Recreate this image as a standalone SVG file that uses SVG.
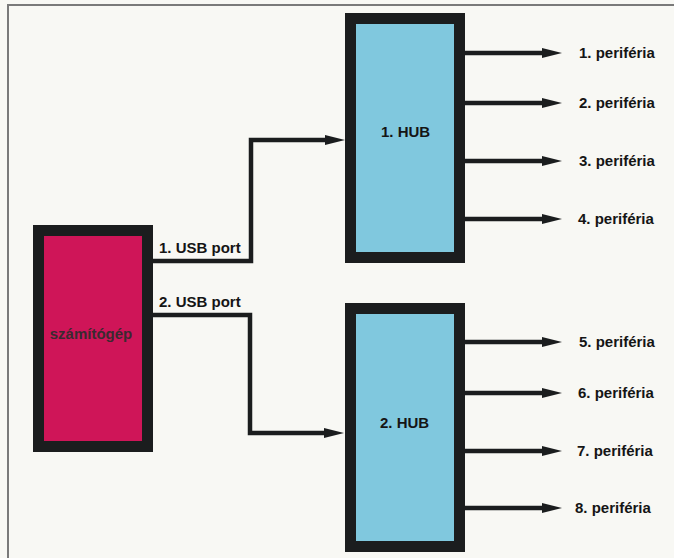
<svg xmlns="http://www.w3.org/2000/svg" width="674" height="558" viewBox="0 0 674 558">
  <style>
    .bg { fill: #f8f8f4; }
    .frame { stroke: #7a7a7a; stroke-width: 2; fill: none; }
    .hub { fill: #80c8de; stroke: #1b1d1e; stroke-width: 11; }
    .pc { fill: #cf1558; stroke: #1b1d1e; stroke-width: 11; }
    .lbl { font-family: "Liberation Sans", Arial, sans-serif; font-size: 15px; font-weight: bold; fill: #151515; }
    .pclbl { font-family: "Liberation Sans", Arial, sans-serif; font-size: 15px; font-weight: bold; fill: #3a2a30; }
    .conn { fill: none; stroke: #1b1d1e; stroke-width: 4.5; stroke-linejoin: miter; marker-end: url(#arr); }
  </style>
  <defs>
    <marker id="arr" markerUnits="userSpaceOnUse" markerWidth="20" markerHeight="12" refX="6" refY="6" orient="auto">
      <path d="M0,1 L20,6 L0,11 z" fill="#1b1d1e"/>
    </marker>
  </defs>
  <rect class="bg" x="0" y="0" width="674" height="558"/>
  <path class="frame" d="M8,558 V5 H674"/>

  <g id="connectors">
    <polyline class="conn" points="153,261 251,261 251,140 331,140"/>
    <polyline class="conn" points="153,315 250,315 250,433 330,433"/>
    <line class="conn" x1="465" y1="53" x2="548" y2="53"/>
    <line class="conn" x1="465" y1="103" x2="548" y2="103"/>
    <line class="conn" x1="465" y1="161" x2="548" y2="161"/>
    <line class="conn" x1="465" y1="219" x2="548" y2="219"/>
    <line class="conn" x1="465" y1="342" x2="548" y2="342"/>
    <line class="conn" x1="465" y1="393" x2="548" y2="393"/>
    <line class="conn" x1="465" y1="451" x2="548" y2="451"/>
    <line class="conn" x1="465" y1="508" x2="548" y2="508"/>
  </g>

  <g id="computer">
    <rect class="pc" x="38.5" y="230.5" width="109" height="216"/>
    <text class="pclbl" x="91" y="339" text-anchor="middle">számítógép</text>
  </g>
  <g id="hub1">
    <rect class="hub" x="350.5" y="18.5" width="109" height="239"/>
    <text class="lbl" x="381" y="137">1. HUB</text>
  </g>
  <g id="hub2">
    <rect class="hub" x="350.5" y="308.5" width="109" height="238"/>
    <text class="lbl" x="380" y="428">2. HUB</text>
  </g>

  <g id="port-labels">
    <text class="lbl" x="159" y="253">1. USB port</text>
    <text class="lbl" x="159" y="307">2. USB port</text>
  </g>

  <g id="p1"><text class="lbl" x="579" y="58">1. periféria</text></g>
  <g id="p2"><text class="lbl" x="579" y="108">2. periféria</text></g>
  <g id="p3"><text class="lbl" x="579" y="166">3. periféria</text></g>
  <g id="p4"><text class="lbl" x="578" y="224">4. periféria</text></g>
  <g id="p5"><text class="lbl" x="579" y="347">5. periféria</text></g>
  <g id="p6"><text class="lbl" x="578" y="398">6. periféria</text></g>
  <g id="p7"><text class="lbl" x="577" y="456">7. periféria</text></g>
  <g id="p8"><text class="lbl" x="575" y="513">8. periféria</text></g>
</svg>
